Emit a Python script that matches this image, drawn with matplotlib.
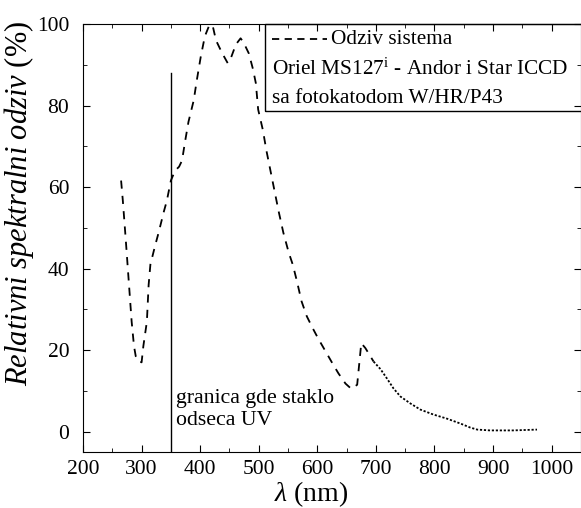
import matplotlib
matplotlib.use("Agg")
import matplotlib.pyplot as plt
from matplotlib.patches import Rectangle
from matplotlib.ticker import MultipleLocator

plt.rcParams['font.family'] = ['Liberation Serif', 'DejaVu Serif']
plt.rcParams['mathtext.fontset'] = 'custom'
plt.rcParams['mathtext.rm'] = 'Liberation Serif'
plt.rcParams['mathtext.it'] = 'Liberation Serif:italic'

# system response, main part (dashed)
lam_main = [265, 268, 273, 278, 283, 287, 290, 295, 300, 303, 309, 312, 315,
            323, 329, 338, 343, 350, 357, 364, 369, 374, 380, 389, 394, 401,
            408, 415, 421, 427, 437, 447, 452, 461, 469, 474, 483, 490, 495,
            499, 507, 513, 520, 527, 534, 542, 551, 558, 565, 573, 582, 592,
            602, 614, 626, 636, 648, 658, 668, 675, 682, 696]
resp_main = [61.6, 56.6, 47, 37, 27, 21, 18.5, 17.2, 17, 21, 27, 36, 41,
             45.6, 48.8, 54, 56.6, 61.6, 64, 65, 66.5, 71, 76, 81.3, 86, 92,
             97, 99.5, 99.8, 96, 93, 90.4, 91.5, 95, 96.5, 95.5, 92.8, 89, 85.5,
             79, 74, 69, 64, 59, 54, 48.8, 44, 41, 37, 32, 28.3, 25.4,
             22.7, 19.7, 16.7, 14.3, 11.8, 10.5, 11.5, 21.7, 20.5, 17.2]

# tail (finer dashes)
lam_tail = [696, 708, 719, 730, 742, 759, 776, 798, 821, 844, 861, 873, 895,
            934, 975]
resp_tail = [17.2, 15.3, 13, 10.6, 8.6, 6.9, 5.4, 4.2, 3.2, 2.0, 1.0, 0.5, 0.3,
             0.3, 0.5]

uv_cut = 350
uv_top = 88

fig = plt.figure(figsize=(5.81, 5.08), dpi=100)
ax = fig.add_axes([0.1429, 0.1102, 0.857, 0.8425])

ax.plot(lam_main, resp_main, color='black', lw=1.3, dashes=(4.5, 4))
ax.plot(lam_tail, resp_tail, color='black', lw=1.3, dashes=(1.2, 1.0))

# UV glass cutoff
ax.plot([uv_cut, uv_cut], [-5, uv_top], color='black', lw=1.0)
ax.text(uv_cut + 8, 5.4, "granica gde staklo\nodseca UV", fontsize=15.7,
        ha='left', va='center', linespacing=1.2)

ax.set_xlim(200, 1050)
ax.set_ylim(-5, 100)
ax.xaxis.set_major_locator(MultipleLocator(100))
ax.xaxis.set_minor_locator(MultipleLocator(50))
ax.yaxis.set_major_locator(MultipleLocator(20))
ax.yaxis.set_minor_locator(MultipleLocator(10))
ax.tick_params(which='both', direction='in', top=True, right=True,
               labelsize=15.5)
ax.tick_params(axis='y', pad=10)
ax.tick_params(axis='x', pad=6)
ax.tick_params(which='major', length=5)
ax.tick_params(which='minor', length=3)
ax.set_xticks(range(200, 1001, 100))

ax.set_xlabel(r"$\it{\lambda}$ (nm)", fontsize=20)
ax.xaxis.set_label_coords(0.458, -0.064)
ax.set_ylabel(r"$\it{Relativni\ spektralni\ odziv}$ (%)", fontsize=22)
ax.yaxis.set_label_coords(-0.094, 0.58)

# legend box drawn by hand
box = Rectangle((0.365, 0.797), 0.7, 0.203, transform=ax.transAxes,
                fill=False, lw=1.0, clip_on=False)
ax.add_patch(box)
ax.plot([0.379, 0.49], [0.965, 0.965], transform=ax.transAxes,
        color='black', lw=1.3, dashes=(4, 3))
ax.text(0.498, 0.965, "Odziv sistema", transform=ax.transAxes,
        fontsize=15.3, ha='left', va='center')
ax.text(0.379, 0.895, r"Oriel MS127$^{\rm i}$ - Andor i Star ICCD",
        transform=ax.transAxes, fontsize=15.3, ha='left', va='center')
ax.text(0.379, 0.827, "sa fotokatodom W/HR/P43", transform=ax.transAxes,
        fontsize=15.3, ha='left', va='center')

fig.savefig("out.png", dpi=100)
